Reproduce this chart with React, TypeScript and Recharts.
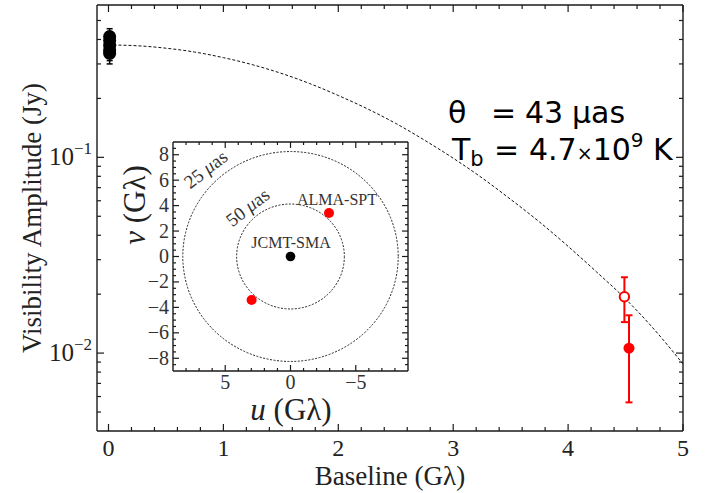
import React from "react";
import {
  ComposedChart,
  ScatterChart,
  Line,
  Scatter,
  XAxis,
  YAxis,
  ErrorBar,
  ReferenceArea,
} from "recharts";

// visibility model curve (baseline in Gλ, amplitude in Jy)
const curveBaseline = [0, 0.25, 0.5, 0.75, 1, 1.25, 1.5, 1.75, 2, 2.25, 2.5, 2.75, 3, 3.25, 3.5, 3.75, 4, 4.25, 4.5, 4.75, 5];
const curveAmp = [0.375, 0.3715, 0.361, 0.345, 0.323, 0.2976, 0.269, 0.2383, 0.207, 0.1773, 0.149, 0.1224, 0.099, 0.0786, 0.061, 0.0468, 0.0351, 0.0259, 0.0189, 0.0132, 0.0088];

// JCMT-SMA cluster at zero baseline
const jcmtBaseline = [0.01, 0.01, 0.01, 0.01, 0.01];
const jcmtAmp = [0.414, 0.395, 0.373, 0.352, 0.34];
const jcmtErr = [0.04, 0.04, 0.04, 0.04, 0.04];

// ALMA-SPT points
const sptOpenBaseline = [4.49];
const sptOpenAmp = [0.0194];
const sptOpenErr = [0.005];
const sptBaseline = [4.53];
const sptAmp = [0.0106];
const sptErr = [0.005];

const xTicks = [0, 0.2, 0.4, 0.6, 0.8, 1, 1.2, 1.4, 1.6, 1.8, 2, 2.2, 2.4, 2.6, 2.8, 3, 3.2, 3.4, 3.6, 3.8, 4, 4.2, 4.4, 4.6, 4.8, 5];
const yTicks = [0.005, 0.006, 0.007, 0.008, 0.009, 0.01, 0.02, 0.03, 0.04, 0.05, 0.06, 0.07, 0.08, 0.09, 0.1, 0.2, 0.3, 0.4, 0.5];
const yMajor = [0.01, 0.1];
const yMajorExp = ["−2", "−1"];

// inset uv-plane
const uvRadius = [8.25, 4.125];
const jcmtU = [0];
const jcmtV = [0];
const sptU = [-2.95, 2.98];
const sptV = [3.42, -3.42];
const uTicks = [-8, -7, -6, -5, -4, -3, -2, -1, 0, 1, 2, 3, 4, 5, 6, 7, 8];
const uMajor = [-5, 0, 5];
const vTicks = [-8.5, -8, -7.5, -7, -6.5, -6, -5.5, -5, -4.5, -4, -3.5, -3, -2.5, -2, -1.5, -1, -0.5, 0, 0.5, 1, 1.5, 2, 2.5, 3, 3.5, 4, 4.5, 5, 5.5, 6, 6.5, 7, 7.5, 8, 8.5];

const curveData = curveBaseline.map((b, i) => ({ b, v: curveAmp[i] }));
const jcmtData = jcmtBaseline.map((b, i) => ({ b, v: jcmtAmp[i], err: jcmtErr[i] }));
const sptOpenData = sptOpenBaseline.map((b, i) => ({ b, v: sptOpenAmp[i], err: sptOpenErr[i] }));
const sptData = sptBaseline.map((b, i) => ({ b, v: sptAmp[i], err: sptErr[i] }));
const uvRing = uvRadius.map((r) => ({ r }));
const jcmtUV = jcmtU.map((u, i) => ({ u, v: jcmtV[i] }));
const sptUV = sptU.map((u, i) => ({ u, v: sptV[i] }));

const AX = "#1a1a1a";
const serif = "'Liberation Serif', 'Times New Roman', serif";
const sans = "'DejaVu Sans', sans-serif";
const fmtMinus = (v: number) => (v < 0 ? "−" + Math.abs(v) : String(v));

const isInt = (v: number) => Math.abs(v - Math.round(v)) < 1e-6;

function tickMark(x1: number, y1: number, x2: number, y2: number) {
  return <path d={`M${x1},${y1}L${x2},${y2}`} stroke={AX} strokeWidth={1.2} fill="none" />;
}

function BottomTick(p: any) {
  const major = isInt(p.payload.value);
  return (
    <g>
      {tickMark(p.x, p.y, p.x, p.y - (major ? 7 : 4))}
      {major && (
        <text x={p.x} y={p.y + 25} textAnchor="middle" fontFamily={serif} fontSize={24} fill="#222">
          {p.payload.value}
        </text>
      )}
    </g>
  );
}

function TopTick(p: any) {
  const major = isInt(p.payload.value);
  return <g>{tickMark(p.x, p.y, p.x, p.y + (major ? 7 : 4))}</g>;
}

function LeftTick(p: any) {
  const idx = yMajor.indexOf(p.payload.value);
  const major = idx >= 0;
  return (
    <g>
      {tickMark(p.x, p.y, p.x + (major ? 7 : 4), p.y)}
      {major && (
        <text x={p.x - 5} y={p.y + 8} textAnchor="end" fontFamily={serif} fill="#222">
          <tspan fontSize={25}>10</tspan>
          <tspan fontSize={17} dy={-11}>{yMajorExp[idx]}</tspan>
        </text>
      )}
    </g>
  );
}

function RightTick(p: any) {
  const major = yMajor.indexOf(p.payload.value) >= 0;
  return <g>{tickMark(p.x, p.y, p.x - (major ? 7 : 4), p.y)}</g>;
}

function InsetBottomTick(p: any) {
  const major = uMajor.includes(p.payload.value);
  return (
    <g>
      {tickMark(p.x, p.y, p.x, p.y - (major ? 6 : 3))}
      {major && (
        <text x={p.x} y={p.y + 18} textAnchor="middle" fontFamily={serif} fontSize={20} fill="#333">
          {fmtMinus(p.payload.value)}
        </text>
      )}
    </g>
  );
}

function InsetTopTick(p: any) {
  const major = uMajor.includes(p.payload.value);
  return <g>{tickMark(p.x, p.y, p.x, p.y + (major ? 6 : 3))}</g>;
}

function InsetLeftTick(p: any) {
  const v = p.payload.value;
  const major = isInt(v) && Math.round(v) % 2 === 0;
  return (
    <g>
      {tickMark(p.x, p.y, p.x + (major ? 6 : 3), p.y)}
      {major && (
        <text x={p.x - 4} y={p.y + 6.5} textAnchor="end" fontFamily={serif} fontSize={20} fill="#333">
          {fmtMinus(v)}
        </text>
      )}
    </g>
  );
}

function InsetRightTick(p: any) {
  const v = p.payload.value;
  const major = isInt(v) && Math.round(v) % 2 === 0;
  return <g>{tickMark(p.x, p.y, p.x - (major ? 6 : 3), p.y)}</g>;
}

const ring = (p: any) => (
  <ellipse
    cx={p.x + p.width / 2}
    cy={p.y + p.height / 2}
    rx={Math.abs(p.width) / 2}
    ry={Math.abs(p.height) / 2}
    fill="none"
    stroke="#222"
    strokeWidth={1}
    strokeDasharray="2 1.5"
  />
);

export default function App() {
  const axisLine = { stroke: AX, strokeWidth: 1.4 };
  return (
    <div style={{ position: "absolute", left: 0, top: 0, width: 708, height: 493, background: "#fff" }}>
      <ComposedChart width={708} height={493} margin={{ top: 4, right: 24, bottom: 0, left: 0 }}>
        <XAxis xAxisId="b" dataKey="b" type="number" domain={[-0.1, 5]} allowDataOverflow ticks={xTicks} interval={0}
          tick={BottomTick} tickSize={0} tickMargin={0} tickLine={false} axisLine={axisLine} height={62} />
        <XAxis xAxisId="t" orientation="top" dataKey="b" type="number" domain={[-0.1, 5]} allowDataOverflow ticks={xTicks}
          interval={0} tick={TopTick} tickSize={0} tickMargin={0} tickLine={false} axisLine={axisLine} height={1} />
        <YAxis yAxisId="l" type="number" scale="log" domain={[0.004, 0.6]} allowDataOverflow ticks={yTicks} interval={0}
          tick={LeftTick} tickSize={0} tickMargin={0} tickLine={false} axisLine={axisLine} width={97} />
        <YAxis yAxisId="r" orientation="right" type="number" scale="log" domain={[0.004, 0.6]} allowDataOverflow ticks={yTicks}
          interval={0} tick={RightTick} tickSize={0} tickMargin={0} tickLine={false} axisLine={axisLine} width={1} />
        <Line xAxisId="b" yAxisId="l" data={curveData} dataKey="v" type="monotone" stroke="#111" strokeWidth={1}
          strokeDasharray="3 2" dot={false} isAnimationActive={false} />
        <Scatter xAxisId="b" yAxisId="l" data={jcmtData} dataKey="v" isAnimationActive={false}
          shape={(p: any) => <circle cx={p.cx} cy={p.cy} r={6.5} fill="#000" />}>
          <ErrorBar dataKey="err" direction="y" width={3} stroke="#000" strokeWidth={1.5} isAnimationActive={false} />
        </Scatter>
        <Scatter xAxisId="b" yAxisId="l" data={sptOpenData} dataKey="v" isAnimationActive={false}
          shape={(p: any) => <circle cx={p.cx} cy={p.cy} r={4.7} fill="#fff" stroke="#ff0000" strokeWidth={2} />}>
          <ErrorBar dataKey="err" direction="y" width={3.5} stroke="#ff0000" strokeWidth={2} isAnimationActive={false} />
        </Scatter>
        <Scatter xAxisId="b" yAxisId="l" data={sptData} dataKey="v" isAnimationActive={false}
          shape={(p: any) => <circle cx={p.cx} cy={p.cy} r={5.5} fill="#ff0000" />}>
          <ErrorBar dataKey="err" direction="y" width={3.5} stroke="#ff0000" strokeWidth={2} isAnimationActive={false} />
        </Scatter>
      </ComposedChart>

      <div style={{ position: "absolute", left: 100, top: 130 }}>
        <ScatterChart width={320} height={310} margin={{ top: 11, right: 11, bottom: 9, left: 28 }}>
          <XAxis xAxisId="b" dataKey="u" type="number" domain={[-9, 9]} reversed allowDataOverflow ticks={uTicks} interval={0}
            tick={InsetBottomTick} tickSize={0} tickMargin={0} tickLine={false} axisLine={axisLine} height={60} />
          <XAxis xAxisId="t" orientation="top" dataKey="u" type="number" domain={[-9, 9]} reversed allowDataOverflow ticks={uTicks}
            interval={0} tick={InsetTopTick} tickSize={0} tickMargin={0} tickLine={false} axisLine={axisLine} height={1} />
          <YAxis yAxisId="l" dataKey="v" type="number" domain={[-9, 9]} allowDataOverflow ticks={vTicks} interval={0}
            tick={InsetLeftTick} tickSize={0} tickMargin={0} tickLine={false} axisLine={axisLine} width={45} />
          <YAxis yAxisId="r" orientation="right" dataKey="v" type="number" domain={[-9, 9]} allowDataOverflow ticks={vTicks}
            interval={0} tick={InsetRightTick} tickSize={0} tickMargin={0} tickLine={false} axisLine={axisLine} width={1} />
          {uvRing.map((c) => (
            <ReferenceArea key={c.r} xAxisId="b" yAxisId="l" x1={c.r} x2={-c.r} y1={-c.r} y2={c.r} shape={ring} />
          ))}
          <Scatter xAxisId="b" yAxisId="l" data={jcmtUV} isAnimationActive={false}
            shape={(p: any) => <circle cx={p.cx} cy={p.cy} r={4.8} fill="#000" />} />
          <Scatter xAxisId="b" yAxisId="l" data={sptUV} isAnimationActive={false}
            shape={(p: any) => <circle cx={p.cx} cy={p.cy} r={5} fill="#ff0000" />} />
        </ScatterChart>
      </div>

      <svg width={708} height={493} style={{ position: "absolute", left: 0, top: 0, pointerEvents: "none" }}>
        <text x={390} y={485} textAnchor="middle" fontFamily={serif} fontSize={27} fill="#222">Baseline (Gλ)</text>
        <text transform="translate(41,218) rotate(-90)" textAnchor="middle" fontFamily={serif} fontSize={27} fill="#222">
          Visibility Amplitude (Jy)
        </text>
        <text y={123} fontFamily={sans} fontSize={30} fill="#000">
          <tspan x={448}>θ</tspan>
          <tspan x={491}>=</tspan>
          <tspan x={525}>43</tspan>
          <tspan x={572}>μas</tspan>
        </text>
        <text y={160} fontFamily={sans} fontSize={30} fill="#000" style={{ whiteSpace: "pre" }}>
          <tspan x={452}>T</tspan>
          <tspan fontSize={21} dy={6}>b</tspan>
          <tspan x={494} dy={-6}>=</tspan>
          <tspan x={529}>4.7</tspan>
          <tspan fontSize={19}>×</tspan>
          <tspan>10</tspan>
          <tspan fontSize={20} dy={-13}>9</tspan>
          <tspan dy={13}>{" K"}</tspan>
        </text>
        <text x={291} y={420} textAnchor="middle" fontFamily={serif} fontSize={31} fill="#222">
          <tspan fontStyle="italic">u</tspan> (Gλ)
        </text>
        <text transform="translate(145,205) rotate(-90)" textAnchor="middle" fontFamily={serif} fontSize={31} fill="#222">
          <tspan fontStyle="italic">v</tspan> (Gλ)
        </text>
        <text transform="translate(207,171) rotate(-38)" textAnchor="middle" dominantBaseline="middle" fontFamily={serif} fontSize={19} fill="#333">
          25 <tspan fontStyle="italic">μ</tspan>as
        </text>
        <text transform="translate(249,209) rotate(-38)" textAnchor="middle" dominantBaseline="middle" fontFamily={serif} fontSize={19} fill="#333">
          50 <tspan fontStyle="italic">μ</tspan>as
        </text>
        <text x={337} y={205} textAnchor="middle" fontFamily={serif} fontSize={16} fill="#333">ALMA-SPT</text>
        <text x={291} y={248} textAnchor="middle" fontFamily={serif} fontSize={16} fill="#333">JCMT-SMA</text>
      </svg>
    </div>
  );
}
